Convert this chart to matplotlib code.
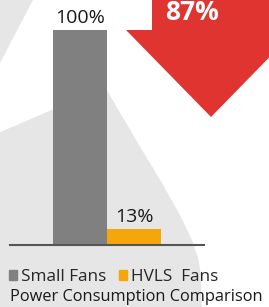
import matplotlib.pyplot as plt
from matplotlib.patches import Polygon

plt.rcParams['font.family'] = ['Open Sans', 'DejaVu Sans']

# data
categories = ["Small Fans", "HVLS  Fans"]
values = [100, 13]
value_labels = ["100%", "13%"]
bar_colors = ["#808080", "#f5a60c"]
reduction_label = "87%"
title = "Power Consumption Comparison"

W, H = 269, 307
fig = plt.figure(figsize=(W / 100, H / 100), dpi=100)

# decorative background (pixel coords, y down)
bg = fig.add_axes([0, 0, 1, 1])
bg.set_xlim(0, W)
bg.set_ylim(H, 0)
bg.axis("off")
grey = "#e6e6e6"
bg.add_patch(Polygon([(0, 0), (33, 0), (0, 63)], closed=True, fc=grey, ec="none"))
bg.add_patch(Polygon([(105, 87), (142, 150), (162, 183), (181, 217), (192, 240),
                      (198, 258), (201, 275), (202, 310), (-2, 310), (-2, 133)],
                     closed=True, fc=grey, ec="none"))
# red arrow
bg.add_patch(Polygon([(152, -5), (152, 30), (126, 30), (211, 117), (296, 30),
                      (270, 30), (270, -5)], closed=True, fc="#e03431", ec="none"))
bg.text(192, 12, reduction_label, color="white", fontsize=19, fontweight="bold",
        ha="center", va="center")

# bars
ax = fig.add_axes([10 / W, 62 / H, 194 / W, 245 / H])
ax.patch.set_alpha(0)
x = list(range(len(values)))
bars = ax.bar(x, values, width=1.0, color=bar_colors, label=None)
ax.bar_label(bars, labels=value_labels, padding=2, fontsize=14, color="#1a1a1a")
ax.set_xlim(-1.28, 2.28)
ax.set_ylim(6, 113)
for s in ["top", "left", "right"]:
    ax.spines[s].set_visible(False)
ax.spines["bottom"].set_color("#555555")
ax.spines["bottom"].set_linewidth(1.5)
ax.set_xticks([])
ax.set_yticks([])

handles = [plt.Rectangle((0, 0), 1, 1, color=c) for c in bar_colors]
leg = fig.legend(handles, categories, loc="center left",
                 bbox_to_anchor=(2 / W, 1 - 277 / H), ncol=2, frameon=False,
                 fontsize=12.3, handlelength=0.45, handleheight=0.45,
                 handletextpad=0.25, columnspacing=0.75, borderaxespad=0,
                 labelcolor="#262626")

fig.text(136 / W, 1 - 297 / H, title, ha="center", va="center",
         fontsize=11.8, color="#1a1a1a")

fig.savefig("out.png", dpi=100)
